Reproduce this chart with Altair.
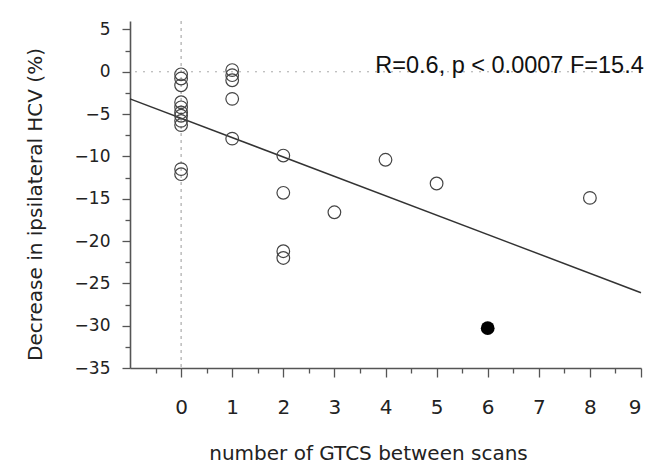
import altair as alt
import pandas as pd

# data
gtcs = [0, 0, 0, 0, 0, 0, 0, 0, 0, 0, 0,
        1, 1, 1, 1, 1,
        2, 2, 2, 2,
        3, 4, 5, 8]
hcv = [-0.3, -0.8, -1.6, -3.6, -4.2, -4.8, -5.2, -5.8, -6.3, -11.5, -12.1,
       0.2, -0.4, -1.0, -3.2, -7.9,
       -9.9, -14.3, -21.2, -22.0,
       -16.6, -10.4, -13.2, -14.9]
outlier_gtcs = [6]
outlier_hcv = [-30.3]
fit_x = [-1, 9]
fit_y = [-3.2, -26.1]
x_major = list(range(0, 10))
x_minor = [-0.5, 0.5, 1.5, 2.5, 3.5, 4.5, 5.5, 6.5, 7.5, 8.5]
y_major = [-35, -30, -25, -20, -15, -10, -5, 0, 5]
y_minor = [-32.5, -27.5, -22.5, -17.5, -12.5, -7.5, -2.5, 2.5]
annot_text = ["R=0.6, p < 0.0007 F=15.4"]
annot_x = [3.8]
annot_y = [-0.2]

pts = pd.DataFrame({"x": gtcs, "y": hcv})
out = pd.DataFrame({"x": outlier_gtcs, "y": outlier_hcv})
fit = pd.DataFrame({"x": fit_x, "y": fit_y})
vref = pd.DataFrame({"x": [0]})
href = pd.DataFrame({"y": [0]})
ann = pd.DataFrame({"x": annot_x, "y": annot_y, "t": annot_text})

xs = alt.Scale(domain=[-1, 9], nice=False, zero=False)
ys = alt.Scale(domain=[-35, 6], nice=False, zero=False)

AX = dict(grid=False, domainColor="#555", domainWidth=1.6, tickColor="#555",
          tickWidth=1.3, labelColor="#222", titleColor="#222",
          labelFont="DejaVu Sans", titleFont="DejaVu Sans")

x_major_axis = alt.Axis(values=x_major, orient="bottom", tickSize=9, labelPadding=20,
                        labelFontSize=20, labelFontWeight="normal",
                        title="number of GTCS between scans", titleFontSize=20,
                        titleFontWeight="normal", titleX=238, titleY=85,
                        titleBaseline="middle", titleAlign="center", **AX)
y_major_axis = alt.Axis(values=y_major, orient="left", tickSize=8, labelPadding=12,
                        labelFontSize=17, title="Decrease in ipsilateral HCV (%)",
                        titleFontSize=20, titleFontWeight="normal", titleX=-95,
                        titleY=183, titleBaseline="middle", titleAlign="center",
                        titleAngle=-90, **AX)
x_minor_axis = alt.Axis(values=x_minor, orient="bottom", tickSize=5, labels=False,
                        domain=False, title=None, grid=False, tickColor="#555",
                        tickWidth=1.3)
y_minor_axis = alt.Axis(values=y_minor, orient="left", tickSize=5, labels=False,
                        domain=False, title=None, grid=False, tickColor="#555",
                        tickWidth=1.3)

fit_line = alt.Chart(fit).mark_line(color="#333", strokeWidth=1.5).encode(
    x=alt.X("x:Q", scale=xs, axis=x_major_axis),
    y=alt.Y("y:Q", scale=ys, axis=y_major_axis),
)

vline = alt.Chart(vref).mark_rule(color="#999", strokeDash=[3, 4], strokeWidth=1).encode(
    x=alt.X("x:Q", scale=xs, axis=x_minor_axis),
)
hline = alt.Chart(href).mark_rule(color="#aaa", strokeDash=[2, 6], strokeWidth=1).encode(
    y=alt.Y("y:Q", scale=ys, axis=y_minor_axis),
)

open_pts = alt.Chart(pts).mark_point(shape="circle", filled=False, size=160,
                                      strokeWidth=1.2, color="#444", opacity=1).encode(
    x=alt.X("x:Q", scale=xs, axis=None),
    y=alt.Y("y:Q", scale=ys, axis=None),
)
filled_pt = alt.Chart(out).mark_circle(size=190, color="black", opacity=1).encode(
    x=alt.X("x:Q", scale=xs, axis=None),
    y=alt.Y("y:Q", scale=ys, axis=None),
)
text = alt.Chart(ann).mark_text(align="left", baseline="alphabetic",
                                 font="Liberation Sans", fontSize=23.5,
                                 color="#111").encode(
    x=alt.X("x:Q", scale=xs, axis=None),
    y=alt.Y("y:Q", scale=ys, axis=None),
    text="t:N",
)

chart = alt.layer(vline, hline, fit_line, open_pts, filled_pt, text).resolve_axis(
    x="independent", y="independent"
).properties(
    width=511, height=347,
    autosize=alt.AutoSizeParams(type="none"),
    padding={"left": 122, "top": 13, "right": 20, "bottom": 98},
    background="white",
).configure_view(stroke=None)

chart.save("out.html", embed_options={"renderer": "svg", "actions": False})
